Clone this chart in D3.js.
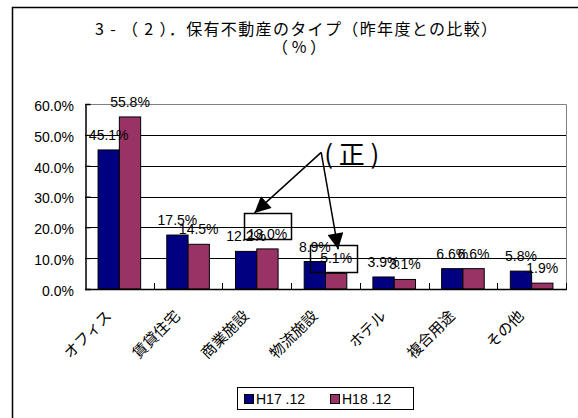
<!DOCTYPE html>
<html>
<head>
<meta charset="utf-8">
<script src="https://cdn.jsdelivr.net/npm/d3@7"></script>
<style>
  body { margin: 0; background: #fff; }
  svg { display: block; }
</style>
</head>
<body>
<svg id="chart"></svg>
<script>
// data
const categories = ['オフィス', '賃貸住宅', '商業施設', '物流施設', 'ホテル', '複合用途', 'その他'];
const seriesNames = ['H17 .12', 'H18 .12'];
const h17 = [45.1, 17.5, 12.2, 8.9, 3.9, 6.6, 5.8];
const h18 = [55.8, 14.5, 13.0, 5.1, 3.1, 6.6, 1.9];
const yTicks = [0, 10, 20, 30, 40, 50, 60];
const colors = ['#000080', '#993366'];

const width = 578, height = 418;
const plot = { left: 85, right: 566, top: 104, bottom: 289 };
const latin = 'Arial, "Liberation Sans", sans-serif';
const cjk = '"Noto Sans CJK JP", sans-serif';

const svg = d3.select('#chart')
    .attr('width', width)
    .attr('height', height);

svg.append('rect')
    .attr('width', width).attr('height', height)
    .attr('fill', '#fff');

// outer chart frame (runs off the right/bottom)
svg.append('rect')
    .attr('x', 12.5).attr('y', 7.5)
    .attr('width', 700).attr('height', 600)
    .attr('fill', 'none')
    .attr('stroke', '#000')
    .attr('stroke-width', 1.5);

// title
svg.append('text')
    .attr('x', 296).attr('y', 35)
    .attr('text-anchor', 'middle')
    .attr('font-family', cjk)
    .attr('font-size', 16)
    .attr('textLength', 402)
    .attr('lengthAdjust', 'spacing')
    .text('3 - （ 2 ）．保有不動産のタイプ（昨年度との比較）');
svg.append('text')
    .attr('x', 299).attr('y', 53)
    .attr('text-anchor', 'middle')
    .attr('font-family', cjk)
    .attr('font-size', 16)
    .text('（ % ）');

// scales
const x0 = d3.scaleBand()
    .domain(categories)
    .range([plot.left, plot.right])
    .paddingInner(0.38)
    .paddingOuter(0.19);
const x1 = d3.scaleBand()
    .domain(seriesNames)
    .range([0, x0.bandwidth()]);
const y = d3.scaleLinear()
    .domain([0, 60])
    .range([plot.bottom, plot.top]);

// gridlines
svg.append('g')
    .selectAll('line')
    .data(yTicks.filter(t => t > 0 && t < 60))
    .enter().append('line')
    .attr('x1', plot.left).attr('x2', plot.right)
    .attr('y1', d => Math.round(y(d)) + 0.5)
    .attr('y2', d => Math.round(y(d)) + 0.5)
    .attr('stroke', '#000')
    .attr('stroke-width', 1);

// plot area border top/right (gray)
svg.append('path')
    .attr('d', `M${plot.left},${y(60) + 0.5}H${plot.right + 0.5}V${plot.bottom}`)
    .attr('fill', 'none')
    .attr('stroke', '#808080')
    .attr('stroke-width', 1);

// bars
const rows = categories.map((c, i) => ({ cat: c, values: [h17[i], h18[i]] }));
const groups = svg.append('g')
    .selectAll('g')
    .data(rows)
    .enter().append('g')
    .attr('transform', d => `translate(${x0(d.cat)},0)`);

groups.selectAll('rect')
    .data(d => d.values.map((v, k) => ({ v, k, name: seriesNames[k] })))
    .enter().append('rect')
    .attr('x', d => x1(d.name))
    .attr('y', d => y(d.v))
    .attr('width', x1.bandwidth())
    .attr('height', d => y(0) - y(d.v))
    .attr('fill', d => colors[d.k])
    .attr('stroke', '#000')
    .attr('stroke-width', 1);

// y axis
const yAxis = svg.append('g')
    .attr('transform', `translate(${plot.left + 0.5},0)`)
    .call(d3.axisRight(y).tickValues(yTicks).tickSize(5).tickFormat(''));
yAxis.select('.domain').attr('stroke', '#000').attr('stroke-width', 1.5);
yAxis.selectAll('.tick line').attr('stroke', '#000');

svg.append('g')
    .selectAll('text')
    .data(yTicks)
    .enter().append('text')
    .attr('x', 74)
    .attr('y', d => y(d) + 2)
    .attr('dy', '0.35em')
    .attr('text-anchor', 'end')
    .attr('font-family', latin)
    .attr('font-size', 14)
    .text(d => d.toFixed(1) + '%');

// x axis line and inside ticks at category boundaries
svg.append('line')
    .attr('x1', plot.left).attr('x2', plot.right + 1)
    .attr('y1', y(0) + 0.5).attr('y2', y(0) + 0.5)
    .attr('stroke', '#000')
    .attr('stroke-width', 1.5);
const bounds = categories.map(c => x0(c) - x0.step() * x0.paddingOuter()).slice(1)
    .concat([plot.right]);
svg.append('g')
    .selectAll('line')
    .data(bounds)
    .enter().append('line')
    .attr('x1', d => Math.round(d) + 0.5).attr('x2', d => Math.round(d) + 0.5)
    .attr('y1', y(0)).attr('y2', y(0) - 6)
    .attr('stroke', '#000')
    .attr('stroke-width', 1);

// category labels, rotated
svg.append('g')
    .selectAll('text')
    .data(categories)
    .enter().append('text')
    .attr('transform', d => `translate(${x0(d) + x0.bandwidth() / 2 - 7},317) rotate(-45)`)
    .attr('text-anchor', 'end')
    .attr('font-family', cjk)
    .attr('font-size', 15)
    .text(d => d);

// value labels
groups.selectAll('text')
    .data(d => d.values.map((v, k) => ({ v, k, name: seriesNames[k] })))
    .enter().append('text')
    .attr('x', d => x1(d.name) + x1.bandwidth() / 2)
    .attr('y', d => y(d.v) - 10)
    .attr('text-anchor', 'middle')
    .attr('font-family', latin)
    .attr('font-size', 14)
    .text(d => d.v.toFixed(1) + '%');

// annotation: "(正)" with arrows to the corrected labels
const ann = svg.append('g');
const apex = [x0('物流施設') + 17, y(44.3)];
const boxes = [
    { cat: '商業施設', x: -23, y: y(13.0) - 36, w: 47, h: 26 },
    { cat: '物流施設', x: -26, y: y(5.1) - 28, w: 47, h: 27 }
];
boxes.forEach(b => {
    const cx = x0(b.cat) + x1(seriesNames[1]) + x1.bandwidth() / 2;
    b.left = cx + b.x;
    ann.append('rect')
        .attr('x', Math.round(b.left) + 0.5).attr('y', Math.round(b.y) + 0.5)
        .attr('width', b.w).attr('height', b.h)
        .attr('fill', 'none')
        .attr('stroke', '#000')
        .attr('stroke-width', 1.5);
});
const tips = [
    [boxes[0].left + 10, boxes[0].y],
    [boxes[1].left + 28, boxes[1].y + 4]
];
svg.append('defs').append('marker')
    .attr('id', 'arrow')
    .attr('viewBox', '0 0 10 10')
    .attr('refX', 10).attr('refY', 5)
    .attr('markerWidth', 18).attr('markerHeight', 16)
    .attr('markerUnits', 'userSpaceOnUse')
    .attr('orient', 'auto')
    .append('path')
    .attr('d', 'M0,0L10,5L0,10Z')
    .attr('fill', '#000');
tips.forEach(t => {
    ann.append('line')
        .attr('x1', apex[0]).attr('y1', apex[1])
        .attr('x2', t[0]).attr('y2', t[1])
        .attr('stroke', '#000')
        .attr('stroke-width', 1.5)
        .attr('marker-end', 'url(#arrow)');
});
ann.append('text')
    .attr('x', apex[0] + 3).attr('y', apex[1] + 12)
    .attr('font-family', cjk)
    .attr('font-size', 26)
    .text('( 正 )');

// legend
const legend = svg.append('g').attr('transform', 'translate(237,387)');
legend.append('rect')
    .attr('x', 0.5).attr('y', 0.5)
    .attr('width', 176).attr('height', 22)
    .attr('fill', '#fff')
    .attr('stroke', '#000')
    .attr('stroke-width', 1);
const items = legend.selectAll('g.item')
    .data(seriesNames)
    .enter().append('g')
    .attr('class', 'item')
    .attr('transform', (d, i) => `translate(${7 + i * 86},0)`);
items.append('rect')
    .attr('x', 0.5).attr('y', 7.5)
    .attr('width', 9).attr('height', 9)
    .attr('fill', (d, i) => colors[i])
    .attr('stroke', '#000')
    .attr('stroke-width', 1);
items.append('text')
    .attr('x', 12).attr('y', 17)
    .attr('font-family', latin)
    .attr('font-size', 14)
    .text(d => d);
</script>
</body>
</html>
